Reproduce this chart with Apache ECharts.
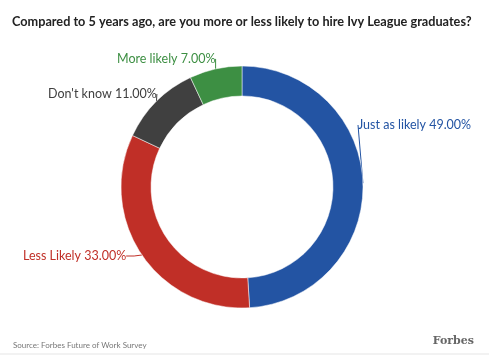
<!DOCTYPE html>
<html><head><meta charset="utf-8">
<script src="https://cdn.jsdelivr.net/npm/echarts@6/dist/echarts.min.js"></script>
<style>html,body{margin:0;padding:0;background:#fff}#c{width:489px;height:356px}</style>
</head><body><div id="c"></div>
<script>
const categories = ['Just as likely', 'Less Likely', "Don't know", 'More likely'];
const values = [49, 33, 11, 7];
const colors = ['#2354a3', '#c02f27', '#404040', '#3d8f43'];
const labelAnchors = [[358, 125], [23, 256], [48, 94], [117, 59]];

const chart = echarts.init(document.getElementById('c'));
chart.setOption({
  animation: false,
  title: [{
    text: 'Compared to 5 years ago, are you more or less likely to hire Ivy League graduates?',
    left: 7, top: 10,
    textStyle: {fontFamily: 'Lato', fontWeight: 'bold', fontSize: 12.7, color: '#222'}
  }, {
    text: 'Source: Forbes Future of Work Survey',
    left: 8, top: 336,
    textStyle: {fontFamily: 'Lato', fontWeight: 'normal', fontSize: 8, color: '#777'}
  }, {
    text: 'Forbes',
    right: 10, top: 331,
    textStyle: {fontFamily: 'DejaVu Serif', fontWeight: 'bold', fontSize: 11, color: '#666'}
  }],
  series: [{
    type: 'pie',
    center: [242, 187],
    radius: [91, 121],
    startAngle: 90,
    clockwise: true,
    itemStyle: {borderColor: '#fff', borderWidth: 0.5},
    label: {
      formatter: p => p.name + ' ' + p.value.toFixed(2) + '%',
      fontFamily: 'Lato', fontSize: 12.5, overflow: 'none'
    },
    labelLine: {length: 8, length2: 8, lineStyle: {width: 1}},
    labelLayout: p => ({
      x: labelAnchors[p.dataIndex][0],
      y: labelAnchors[p.dataIndex][1],
      align: 'left', verticalAlign: 'middle'
    }),
    data: categories.map((c, i) => ({
      name: c, value: values[i],
      itemStyle: {color: colors[i]},
      label: {color: colors[i]},
      labelLine: {lineStyle: {color: colors[i]}}
    }))
  }],
  graphic: [{type: 'line', shape: {x1: 0, y1: 354, x2: 489, y2: 354}, style: {stroke: '#e5e5e5', lineWidth: 1}}]
});
</script></body></html>
